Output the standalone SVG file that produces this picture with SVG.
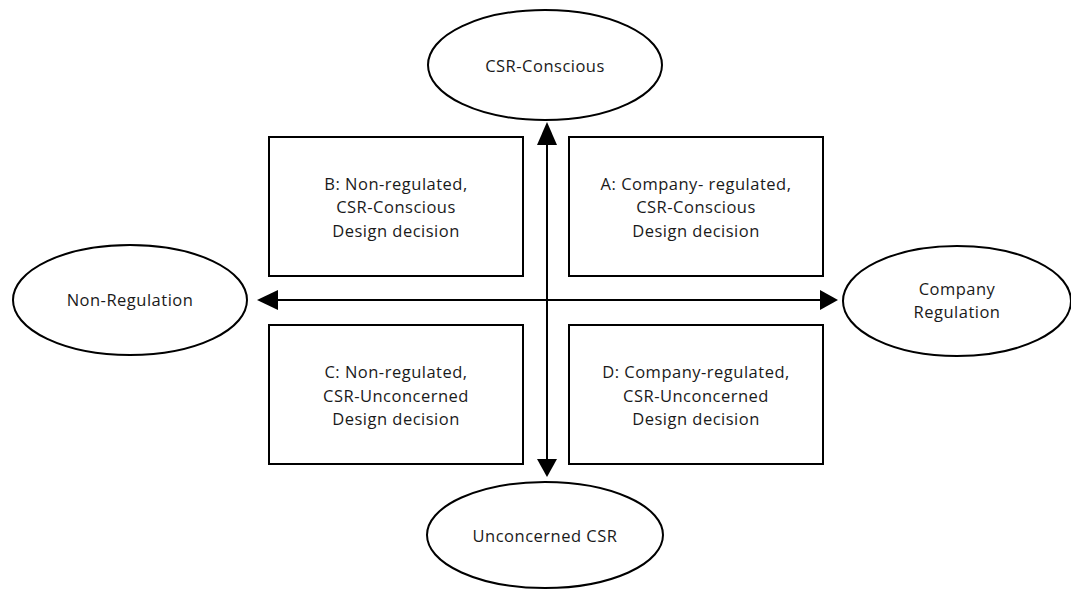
<svg xmlns="http://www.w3.org/2000/svg" width="1071" height="590" viewBox="0 0 1071 590">
<style>
.shape{fill:#fff;stroke:#000;stroke-width:2}
.t{font-family:"Open Sans","Noto Sans",sans-serif;font-size:16.5px;letter-spacing:0.5px;fill:#1a1a1a;text-anchor:middle}
.ln{stroke:#000;stroke-width:2;fill:none}
</style>
<rect width="1071" height="590" fill="#fff"/>
<g id="connectors">
<line class="ln" x1="547" y1="300" x2="547" y2="145"/>
<path d="M547,122 L557,145 L537,145 Z" fill="#000"/>
<line class="ln" x1="547" y1="300" x2="547" y2="460"/>
<path d="M547,477 L557,459 L537,459 Z" fill="#000"/>
<line class="ln" x1="547" y1="300" x2="278" y2="300"/>
<path d="M257,300 L278,290 L278,310 Z" fill="#000"/>
<line class="ln" x1="547" y1="300" x2="820" y2="300"/>
<path d="M838,300 L820,290 L820,310 Z" fill="#000"/>
</g>
<g id="csr-conscious">
<ellipse class="shape" cx="545" cy="65" rx="117" ry="55"/>
<text class="t" x="545" y="72">CSR-Conscious</text>
</g>
<g id="unconcerned-csr">
<ellipse class="shape" cx="545" cy="535" rx="118" ry="53"/>
<text class="t" x="545" y="542">Unconcerned CSR</text>
</g>
<g id="non-regulation">
<ellipse class="shape" cx="130" cy="300" rx="117" ry="55"/>
<text class="t" x="130" y="306">Non-Regulation</text>
</g>
<g id="company-regulation">
<ellipse class="shape" cx="957" cy="301" rx="114" ry="55"/>
<text class="t" x="957" y="295">Company</text>
<text class="t" x="957" y="318">Regulation</text>
</g>
<g id="box-b">
<rect class="shape" x="269" y="137" width="254" height="139"/>
<text class="t" x="396" y="190">B: Non-regulated,</text>
<text class="t" x="396" y="213">CSR-Conscious</text>
<text class="t" x="396" y="237">Design decision</text>
</g>
<g id="box-a">
<rect class="shape" x="569" y="137" width="254" height="139"/>
<text class="t" x="696" y="190">A: Company- regulated,</text>
<text class="t" x="696" y="213">CSR-Conscious</text>
<text class="t" x="696" y="237">Design decision</text>
</g>
<g id="box-c">
<rect class="shape" x="269" y="325" width="254" height="139"/>
<text class="t" x="396" y="378">C: Non-regulated,</text>
<text class="t" x="396" y="402">CSR-Unconcerned</text>
<text class="t" x="396" y="425">Design decision</text>
</g>
<g id="box-d">
<rect class="shape" x="569" y="325" width="254" height="139"/>
<text class="t" x="696" y="378">D: Company-regulated,</text>
<text class="t" x="696" y="402">CSR-Unconcerned</text>
<text class="t" x="696" y="425">Design decision</text>
</g>
</svg>
